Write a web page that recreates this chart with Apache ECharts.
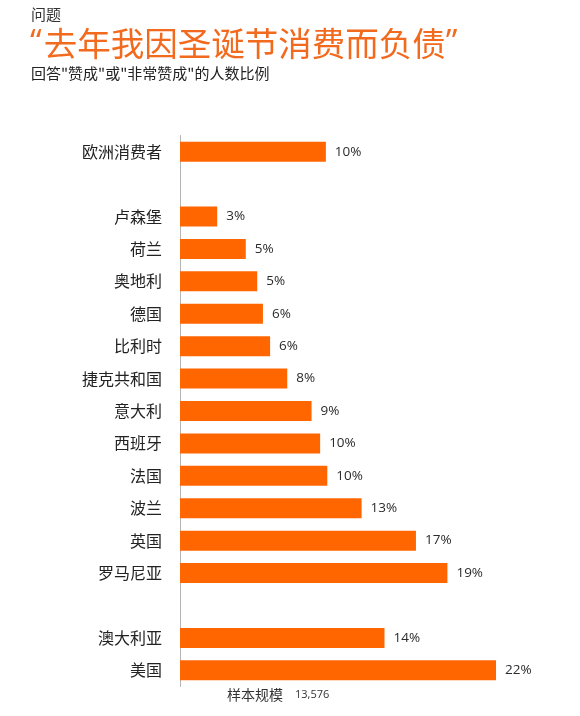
<!DOCTYPE html>
<html>
<head>
<meta charset="utf-8">
<script src="https://cdn.jsdelivr.net/npm/echarts@6/dist/echarts.min.js"></script>
<style>
html,body{margin:0;padding:0;background:#ffffff;}
#chart{width:580px;height:716px;}
</style>
</head>
<body>
<div id="chart"></div>
<script>
// Categories (empty strings are spacer rows)
var categories = ['欧洲消费者', '', '卢森堡', '荷兰', '奥地利', '德国', '比利时', '捷克共和国', '意大利', '西班牙', '法国', '波兰', '英国', '罗马尼亚', '', '澳大利亚', '美国'];
// Bar lengths (percent)
var values = [10.2, null, 2.6, 4.6, 5.4, 5.8, 6.3, 7.5, 9.2, 9.8, 10.3, 12.7, 16.5, 18.7, null, 14.3, 22.1];
// Printed value labels
var valueLabels = ['10%', '', '3%', '5%', '5%', '6%', '6%', '8%', '9%', '10%', '10%', '13%', '17%', '19%', '', '14%', '22%'];

var titleSmall = '问题';
var titleMain = '去年我因圣诞节消费而负债';
var subtitle = '回答"赞成"或"非常赞成"的人数比例';
var footLabel = '样本规模';
var footValue = '13,576';

var CJK = '"Noto Sans CJK SC", "Noto Sans", sans-serif';
var LAT = '"Open Sans", "Noto Sans", sans-serif';

var chart = echarts.init(document.getElementById('chart'), null, {renderer: 'canvas'});
chart.setOption({
  backgroundColor: '#ffffff',
  animation: false,
  grid: {left: 180, top: 135.5, width: 357.5, height: 551, containLabel: false},
  xAxis: {
    type: 'value', min: 0, max: 25, show: false,
    splitLine: {show: false}
  },
  yAxis: {
    type: 'category',
    data: categories,
    inverse: true,
    axisLine: {show: true, lineStyle: {color: '#b5b5b5', width: 1}},
    axisTick: {show: false},
    axisLabel: {color: '#222222', fontSize: 16, fontFamily: CJK, margin: 18}
  },
  series: [{
    type: 'bar',
    data: values,
    barWidth: 20,
    itemStyle: {color: '#ff6600'},
    label: {
      show: true,
      position: 'right',
      distance: 9,
      color: '#2b2b2b',
      fontSize: 13.5,
      fontFamily: LAT,
      formatter: function (p) { return valueLabels[p.dataIndex]; }
    }
  }],
  graphic: [
    {type: 'text', left: 31, top: 7, style: {text: titleSmall, fill: '#333333', font: '15px ' + CJK}},
    {type: 'text', left: 30, top: 26, style: {
      text: '{q|“}{t|' + titleMain + '}{q|”}',
      rich: {
        q: {fill: '#f26a1e', fontFamily: LAT, fontSize: 33.5, padding: [0, 2, 0, 0]},
        t: {fill: '#f26a1e', fontFamily: CJK, fontSize: 33.5}
      }
    }},
    {type: 'text', left: 31, top: 66, style: {text: subtitle, fill: '#222222', font: '15px ' + CJK}},
    {type: 'text', left: 227, top: 688, style: {text: footLabel, fill: '#333333', font: '14px ' + CJK}},
    {type: 'text', left: 295, top: 689, style: {text: footValue, fill: '#333333', font: '11px ' + LAT}}
  ]
});
</script>
</body>
</html>
